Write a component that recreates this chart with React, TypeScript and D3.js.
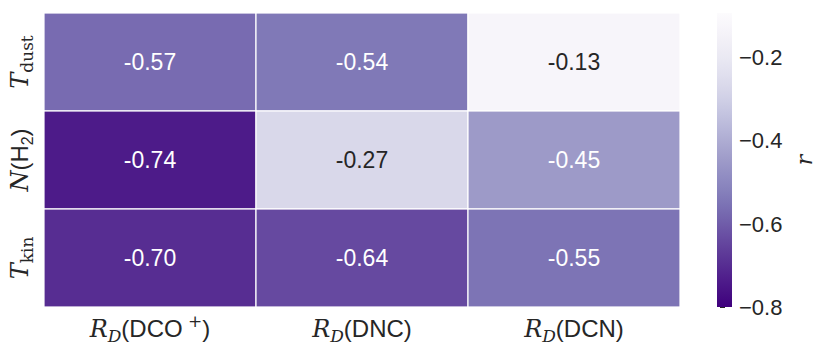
import React from 'react';
import * as d3 from 'd3';

const rowLabels = ['dust', 'H2', 'kin'];
const colSpecies = ['DCO', 'DNC', 'DCN'];
const values = [
  [-0.57, -0.54, -0.13],
  [-0.74, -0.27, -0.45],
  [-0.70, -0.64, -0.55],
];
const cbarTicks = [-0.2, -0.4, -0.6, -0.8];
const vmin = -0.8;
const vmax = -0.094;

const mathFont = '"DejaVu Serif", "Liberation Serif", serif';
const sansFont = '"Liberation Sans", Arial, sans-serif';

export default function App() {
  const W = 830, H = 354;
  const left = 44, right = 680, top = 13, bottom = 307;

  const x = d3.scaleBand<number>().domain([0, 1, 2]).range([left, right]);
  const y = d3.scaleBand<number>().domain([0, 1, 2]).range([top, bottom]);
  const t = d3.scaleLinear().domain([vmin, vmax]).range([1, 0]);
  const color = (v: number) => d3.interpolatePurples(t(v));

  const cbX = 717, cbW = 15;
  const cbY = d3.scaleLinear().domain([vmin, vmax]).range([bottom, top]);
  const stops = d3.range(0, 1.0001, 0.05);

  const yLabel = (i: number) => {
    if (i === 0)
      return (
        <text fontSize={24} textAnchor="middle" fill="#262626">
          <tspan fontFamily={mathFont} fontStyle="italic">T</tspan>
          <tspan fontFamily={mathFont} fontSize={17} dy={5}>dust</tspan>
        </text>
      );
    if (i === 1)
      return (
        <text fontSize={24} textAnchor="middle" fill="#262626">
          <tspan fontFamily={mathFont} fontStyle="italic">N</tspan>
          <tspan fontFamily={sansFont}>(H</tspan>
          <tspan fontFamily={sansFont} fontSize={16} dy={5}>2</tspan>
          <tspan fontFamily={sansFont} dy={-5}>)</tspan>
        </text>
      );
    return (
      <text fontSize={24} textAnchor="middle" fill="#262626">
        <tspan fontFamily={mathFont} fontStyle="italic">T</tspan>
        <tspan fontFamily={mathFont} fontSize={17} dy={5}>kin</tspan>
      </text>
    );
  };

  return (
    <svg width={W} height={H} style={{ position: 'absolute', left: 0, top: 0, background: '#fff' }}>
      <defs>
        <linearGradient id="cb" x1="0" y1="1" x2="0" y2="0">
          {stops.map((s) => (
            <stop key={s} offset={s} stopColor={d3.interpolatePurples(1 - s)} />
          ))}
        </linearGradient>
      </defs>

      {values.map((row, r) =>
        row.map((v, c) => (
          <g key={`${r}-${c}`}>
            <rect
              x={x(c)}
              y={y(r)}
              width={x.bandwidth()}
              height={y.bandwidth()}
              fill={color(v)}
              stroke="#fff"
              strokeWidth={1.2}
            />
            <text
              x={(x(c) as number) + x.bandwidth() / 2}
              y={(y(r) as number) + y.bandwidth() / 2}
              dy="0.36em"
              textAnchor="middle"
              fontFamily={sansFont}
              fontSize={23}
              fill={v < -0.35 ? '#fff' : '#262626'}
            >
              {v.toFixed(2)}
            </text>
          </g>
        ))
      )}

      {rowLabels.map((_, i) => (
        <g
          key={i}
          transform={`translate(28,${(y(i) as number) + y.bandwidth() / 2}) rotate(-90)`}
        >
          {yLabel(i)}
        </g>
      ))}

      {colSpecies.map((s, i) => (
        <text
          key={s}
          x={(x(i) as number) + x.bandwidth() / 2}
          y={337}
          textAnchor="middle"
          fontSize={24}
          fill="#262626"
        >
          <tspan fontFamily={mathFont} fontStyle="italic">R</tspan>
          <tspan fontFamily={mathFont} fontStyle="italic" fontSize={17} dy={5}>D</tspan>
          <tspan fontFamily={sansFont} dy={-5}>({s}</tspan>
          {s === 'DCO' && (
            <tspan fontFamily={mathFont} fontSize={17} dy={-10}>{' +'}</tspan>
          )}
          <tspan fontFamily={sansFont} dy={s === 'DCO' ? 10 : 0}>)</tspan>
        </text>
      ))}

      <rect x={cbX} y={top} width={cbW} height={bottom - top} fill="url(#cb)" />
      {cbarTicks.map((tk) => (
        <g key={tk} transform={`translate(${cbX + cbW},${cbY(tk)})`}>
          <text x={7} dy="0.36em" fontFamily={sansFont} fontSize={22} fill="#262626">
            {'\u2212' + Math.abs(tk).toFixed(1)}
          </text>
        </g>
      ))}
      <line x1={cbX + 3} x2={cbX + 8} y1={bottom + 0.5} y2={bottom + 0.5} stroke="#262626" strokeWidth={1} />
      <text
        transform={`translate(812,${(top + bottom) / 2}) rotate(-90)`}
        textAnchor="middle"
        fontFamily={mathFont}
        fontStyle="italic"
        fontSize={22}
        fill="#262626"
      >
        r
      </text>
    </svg>
  );
}
